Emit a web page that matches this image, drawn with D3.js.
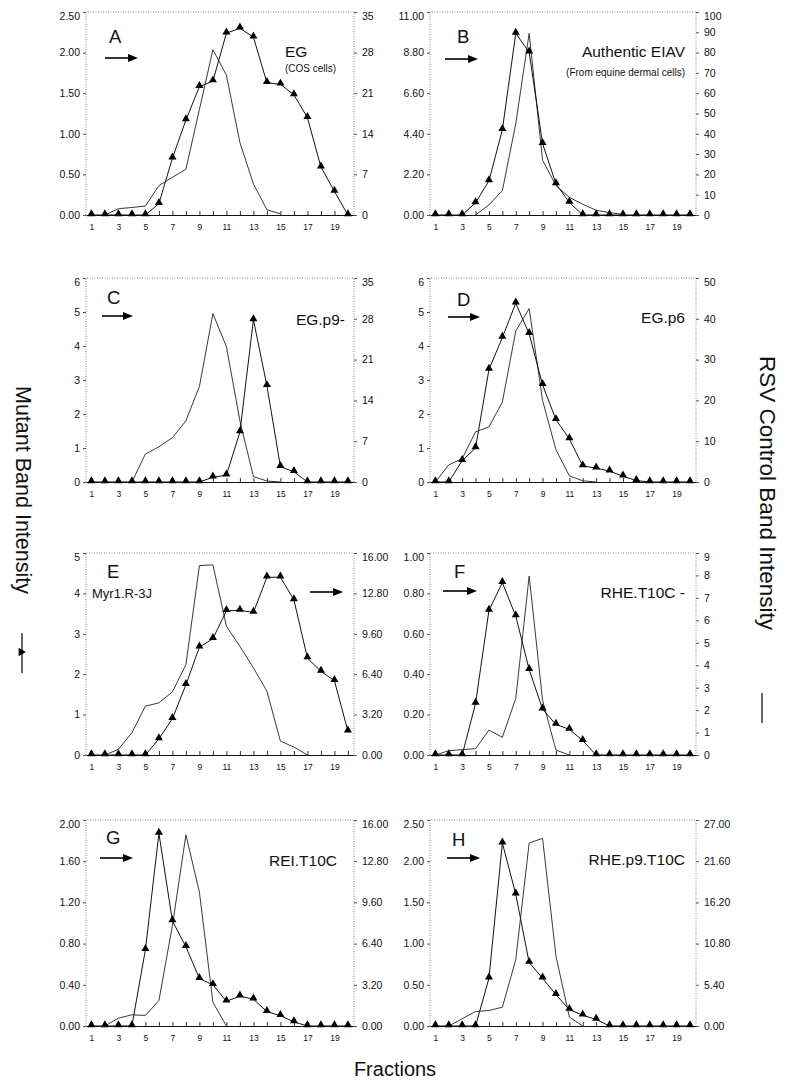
<!DOCTYPE html>
<html>
<head>
<meta charset="utf-8">
<script src="https://cdn.jsdelivr.net/npm/d3@7/dist/d3.min.js"></script>
<style>
  body { margin: 0; background: #fff; }
  text { font-family: "Liberation Sans", Arial, sans-serif; fill: #111; }
</style>
</head>
<body>
<div id="chart"></div>
<script>
// ── DATA ───────────────────────────────────────────────────────
const fractions = [1, 2, 3, 4, 5, 6, 7, 8, 9, 10, 11, 12, 13, 14, 15, 16, 17, 18, 19, 20];
const fractionLabels = [1, 3, 5, 7, 9, 11, 13, 15, 17, 19];

const panelLetters = ["A", "B", "C", "D", "E", "F", "G", "H"];
const panelNames = ["EG", "Authentic EIAV", "EG.p9-", "EG.p6", "Myr1.R-3J", "RHE.T10C -", "REI.T10C", "RHE.p9.T10C"];
const panelNotes = ["(COS cells)", "(From equine dermal cells)", "", "", "", "", "", ""];

// mutant band intensity (triangles, left axis)
const mutantA = [0, 0, 0, 0, 0, 0.14, 0.70, 1.17, 1.58, 1.65, 2.24, 2.30, 2.19, 1.63, 1.61, 1.48, 1.20, 0.59, 0.29, 0];
const mutantB = [0, 0, 0, 0.66, 1.85, 4.62, 9.84, 8.82, 3.87, 1.69, 0.68, 0, 0, 0, 0, 0, 0, 0, 0, 0];
const mutantC = [0, 0, 0, 0, 0, 0, 0, 0, 0, 0.14, 0.20, 1.47, 4.77, 2.83, 0.45, 0.30, 0, 0, 0, 0];
const mutantD = [0, 0, 0.63, 1.0, 3.31, 4.25, 5.26, 4.36, 2.86, 1.83, 1.27, 0.47, 0.41, 0.32, 0.17, 0.04, 0, 0, 0, 0];
const mutantE = [0, 0, 0, 0, 0, 0.40, 0.90, 1.74, 2.67, 2.88, 3.57, 3.58, 3.53, 4.40, 4.40, 3.84, 2.40, 2.07, 1.84, 0.59];
const mutantF = [0, 0, 0, 0.255, 0.716, 0.853, 0.688, 0.423, 0.227, 0.151, 0.127, 0.071, 0, 0, 0, 0, 0, 0, 0, 0];
const mutantG = [0, 0, 0, 0, 0.74, 1.87, 1.02, 0.77, 0.46, 0.40, 0.24, 0.29, 0.26, 0.14, 0.10, 0.04, 0, 0, 0, 0];
const mutantH = [0, 0, 0, 0, 0.58, 2.22, 1.60, 0.77, 0.58, 0.38, 0.20, 0.13, 0.08, 0, 0, 0, 0, 0, 0, 0];

// RSV control band intensity (plain line, right axis); null = not drawn
const rsvA = [null, 0, 1.08, 1.3, 1.54, 5.07, 6.5, 7.9, 18.2, 28.5, 24.1, 12.5, 5.35, 0.9, 0.2, null, null, null, null, null];
const rsvB = [null, null, null, 0, 5, 12, 45, 89.5, 27, 14.5, 8.7, 5.3, 2.3, 1.2, 0.3, null, null, null, null, null];
const rsvC = [null, null, null, 0, 4.8, 6.05, 7.6, 10.5, 16.4, 28.9, 23.2, 10.5, 0.93, 0.17, 0, null, null, null, null, null];
const rsvD = [0, 4.2, 5.7, 12.3, 13.5, 19.6, 37, 42.5, 20, 7.9, 1.5, 0.3, 0, null, null, null, null, null, null, null];
const rsvE = [null, 0, 0.45, 1.76, 3.87, 4.13, 5.0, 7.16, 15.0, 15.06, 10.2, 8.6, 6.9, 5.06, 1.1, 0.63, 0, null, null, null];
const rsvF = [0, 0.19, 0.24, 0.28, 1.11, 0.79, 2.52, 7.97, 2.44, 0.22, 0, null, null, null, null, null, null, null, null, null];
const rsvG = [null, 0, 0.61, 0.87, 0.82, 1.97, 7.8, 14.85, 10.4, 1.84, 0, null, null, null, null, null, null, null, null, null];
const rsvH = [null, 0, 0.95, 1.9, 2.03, 2.46, 8.7, 23.97, 24.6, 9.16, 1.17, 0, null, null, null, null, null, null, null, null];

// axis tick values
const leftTicksA = [0, 0.5, 1, 1.5, 2, 2.5];
const leftTicksB = [0, 2.2, 4.4, 6.6, 8.8, 11];
const leftTicksC = [0, 1, 2, 3, 4, 5, 6];
const leftTicksD = [0, 1, 2, 3, 4, 5, 6];
const leftTicksE = [0, 1, 2, 3, 4, 5];
const leftTicksF = [0, 0.2, 0.4, 0.6, 0.8, 1];
const leftTicksG = [0, 0.4, 0.8, 1.2, 1.6, 2];
const leftTicksH = [0, 0.5, 1, 1.5, 2, 2.5];

const rightTicksA = [0, 7, 14, 21, 28, 35];
const rightTicksB = [0, 10, 20, 30, 40, 50, 60, 70, 80, 90, 100];
const rightTicksC = [0, 7, 14, 21, 28, 35];
const rightTicksD = [0, 10, 20, 30, 40, 50];
const rightTicksE = [0, 3.2, 6.4, 9.6, 12.8, 16];
const rightTicksF = [0, 1, 2, 3, 4, 5, 6, 7, 8, 9];
const rightTicksG = [0, 3.2, 6.4, 9.6, 12.8, 16];
const rightTicksH = [0, 5.4, 10.8, 16.2, 21.6, 27];

// ── LAYOUT ─────────────────────────────────────────────────────
const W = 786, H = 1081;
const colX = [[86, 354], [430, 696]];
const rowY = [[12, 215], [278, 482], [553, 755], [820, 1026]];

const f2 = d3.format(".2f"), f0 = d3.format("d");

const panels = [
  { mutant: mutantA, rsv: rsvA, lt: leftTicksA, rt: rightTicksA, lf: f2, rf: f0 },
  { mutant: mutantB, rsv: rsvB, lt: leftTicksB, rt: rightTicksB, lf: f2, rf: f0 },
  { mutant: mutantC, rsv: rsvC, lt: leftTicksC, rt: rightTicksC, lf: f0, rf: f0 },
  { mutant: mutantD, rsv: rsvD, lt: leftTicksD, rt: rightTicksD, lf: f0, rf: f0 },
  { mutant: mutantE, rsv: rsvE, lt: leftTicksE, rt: rightTicksE, lf: f0, rf: f2 },
  { mutant: mutantF, rsv: rsvF, lt: leftTicksF, rt: rightTicksF, lf: f2, rf: f0 },
  { mutant: mutantG, rsv: rsvG, lt: leftTicksG, rt: rightTicksG, lf: f2, rf: f2 },
  { mutant: mutantH, rsv: rsvH, lt: leftTicksH, rt: rightTicksH, lf: f2, rf: f2 }
];

// text placement inside each panel (local coords)
const annot = [
  { letter: [23, 31], arrow: [19, 52, 46], name: [199, 45, "start"], note: [199, 60, "start", 10] },
  { letter: [27, 31], arrow: [15, 48, 47], name: [255, 45, "end"], note: [255, 64, "end", 10] },
  { letter: [21, 26], arrow: [16, 47, 38], name: [259, 47, "end"] },
  { letter: [27, 28], arrow: [18, 50, 39], name: [255, 45, "end"] },
  { letter: [21, 25], arrow: [224, 257, 39], name: [6, 45, "start", 13] },
  { letter: [24, 25], arrow: [13, 47, 38], name: [255, 45, "end"] },
  { letter: [20, 24], arrow: [14, 47, 38], name: [251, 46, "end"] },
  { letter: [22, 26], arrow: [17, 50, 38], name: [255, 45, "end"] }
];

const svg = d3.select("#chart").append("svg")
  .attr("width", W).attr("height", H);

function drawArrow(g, x1, x2, y) {
  g.append("line")
    .attr("x1", x1).attr("x2", x2 - 8).attr("y1", y).attr("y2", y)
    .attr("stroke", "#000").attr("stroke-width", 1.6);
  g.append("path")
    .attr("d", `M${x2},${y} L${x2 - 10},${y - 4} L${x2 - 10},${y + 4} Z`)
    .attr("fill", "#000");
}

panels.forEach((p, i) => {
  const [x0, x1] = colX[i % 2];
  const [y0, y1] = rowY[Math.floor(i / 2)];
  const w = x1 - x0, h = y1 - y0;

  const g = svg.append("g").attr("transform", `translate(${x0},${y0})`);

  const x = d3.scaleLinear().domain([0.6, 20.45]).range([0, w]);
  const yL = d3.scaleLinear().domain([0, d3.max(p.lt)]).range([h, 0]);
  const yR = d3.scaleLinear().domain([0, d3.max(p.rt)]).range([h, 0]);

  // dotted frame (top, left, right)
  g.append("path")
    .attr("d", `M0,${h} V0 H${w} V${h}`)
    .attr("fill", "none").attr("stroke", "#888")
    .attr("stroke-width", 1).attr("stroke-dasharray", "1,1.5");

  // bottom axis: inward ticks on every fraction, labels on odd ones
  const xa = g.append("g").attr("transform", `translate(0,${h})`)
    .call(d3.axisBottom(x).tickValues(fractions).tickSizeInner(-4).tickSizeOuter(0)
      .tickPadding(9).tickFormat(d => fractionLabels.includes(d) ? d : ""));
  xa.select(".domain").attr("stroke", "#111");
  xa.selectAll("line").attr("stroke", "#333");
  xa.selectAll("text").attr("font-size", 8.5).attr("fill", "#222");

  // left axis
  const la = g.append("g")
    .call(d3.axisLeft(yL).tickValues(p.lt).tickSize(3).tickPadding(3).tickFormat(p.lf));
  la.select(".domain").remove();
  la.selectAll("line").attr("stroke", "#555");
  la.selectAll("text").attr("font-size", 10.5).attr("fill", "#222")
    .attr("dy", d => d === d3.max(p.lt) ? "0.75em" : "0.32em");

  // right axis
  const ra = g.append("g").attr("transform", `translate(${w},0)`)
    .call(d3.axisRight(yR).tickValues(p.rt).tickSize(3).tickPadding(5).tickFormat(p.rf));
  ra.select(".domain").remove();
  ra.selectAll("line").attr("stroke", "#555");
  ra.selectAll("text").attr("font-size", 10.5).attr("fill", "#222")
    .attr("dy", d => d === d3.max(p.rt) ? "0.75em" : "0.32em");

  // RSV control line
  const rsvLine = d3.line()
    .defined(d => d != null)
    .x((d, j) => x(fractions[j]))
    .y(d => yR(d));
  g.append("path")
    .attr("d", rsvLine(p.rsv))
    .attr("fill", "none").attr("stroke", "#222").attr("stroke-width", 0.9);

  // mutant line + triangles
  const mutLine = d3.line()
    .x((d, j) => x(fractions[j]))
    .y(d => yL(d));
  g.append("path")
    .attr("d", mutLine(p.mutant))
    .attr("fill", "none").attr("stroke", "#111").attr("stroke-width", 1);

  const tri = d3.symbol().type(d3.symbolTriangle).size(28);
  g.selectAll(".tri")
    .data(p.mutant)
    .join("path")
      .attr("class", "tri")
      .attr("d", tri)
      .attr("transform", (d, j) => `translate(${x(fractions[j])},${yL(d) - 1})`)
      .attr("fill", "#000");

  // annotations
  const a = annot[i];
  g.append("text")
    .attr("x", a.letter[0]).attr("y", a.letter[1])
    .attr("font-size", 18.5)
    .text(panelLetters[i]);
  drawArrow(g, a.arrow[0], a.arrow[1], a.arrow[2]);
  g.append("text")
    .attr("x", a.name[0]).attr("y", a.name[1])
    .attr("text-anchor", a.name[2])
    .attr("font-size", a.name[3] || 15.5)
    .text(panelNames[i]);
  if (panelNotes[i]) {
    g.append("text")
      .attr("x", a.note[0]).attr("y", a.note[1])
      .attr("text-anchor", a.note[2])
      .attr("font-size", a.note[3])
      .text(panelNotes[i]);
  }
});

// ── AXIS TITLES ────────────────────────────────────────────────
svg.append("text")
  .attr("transform", "translate(16,490) rotate(90)")
  .attr("text-anchor", "middle")
  .attr("font-size", 21.5)
  .text("Mutant Band Intensity");

// legend marker: line with triangle
svg.append("line")
  .attr("x1", 22).attr("x2", 22).attr("y1", 633).attr("y2", 673)
  .attr("stroke", "#000").attr("stroke-width", 1.2);
svg.append("path")
  .attr("d", d3.symbol().type(d3.symbolTriangle).size(30)())
  .attr("transform", "translate(21,652) rotate(90)")
  .attr("fill", "#000");

svg.append("text")
  .attr("transform", "translate(760,493) rotate(90)")
  .attr("text-anchor", "middle")
  .attr("font-size", 22.5)
  .text("RSV Control Band Intensity");

svg.append("line")
  .attr("x1", 762).attr("x2", 762).attr("y1", 693).attr("y2", 723)
  .attr("stroke", "#000").attr("stroke-width", 1.2);

svg.append("text")
  .attr("x", 395).attr("y", 1076)
  .attr("text-anchor", "middle")
  .attr("font-size", 20)
  .text("Fractions");
</script>
</body>
</html>
